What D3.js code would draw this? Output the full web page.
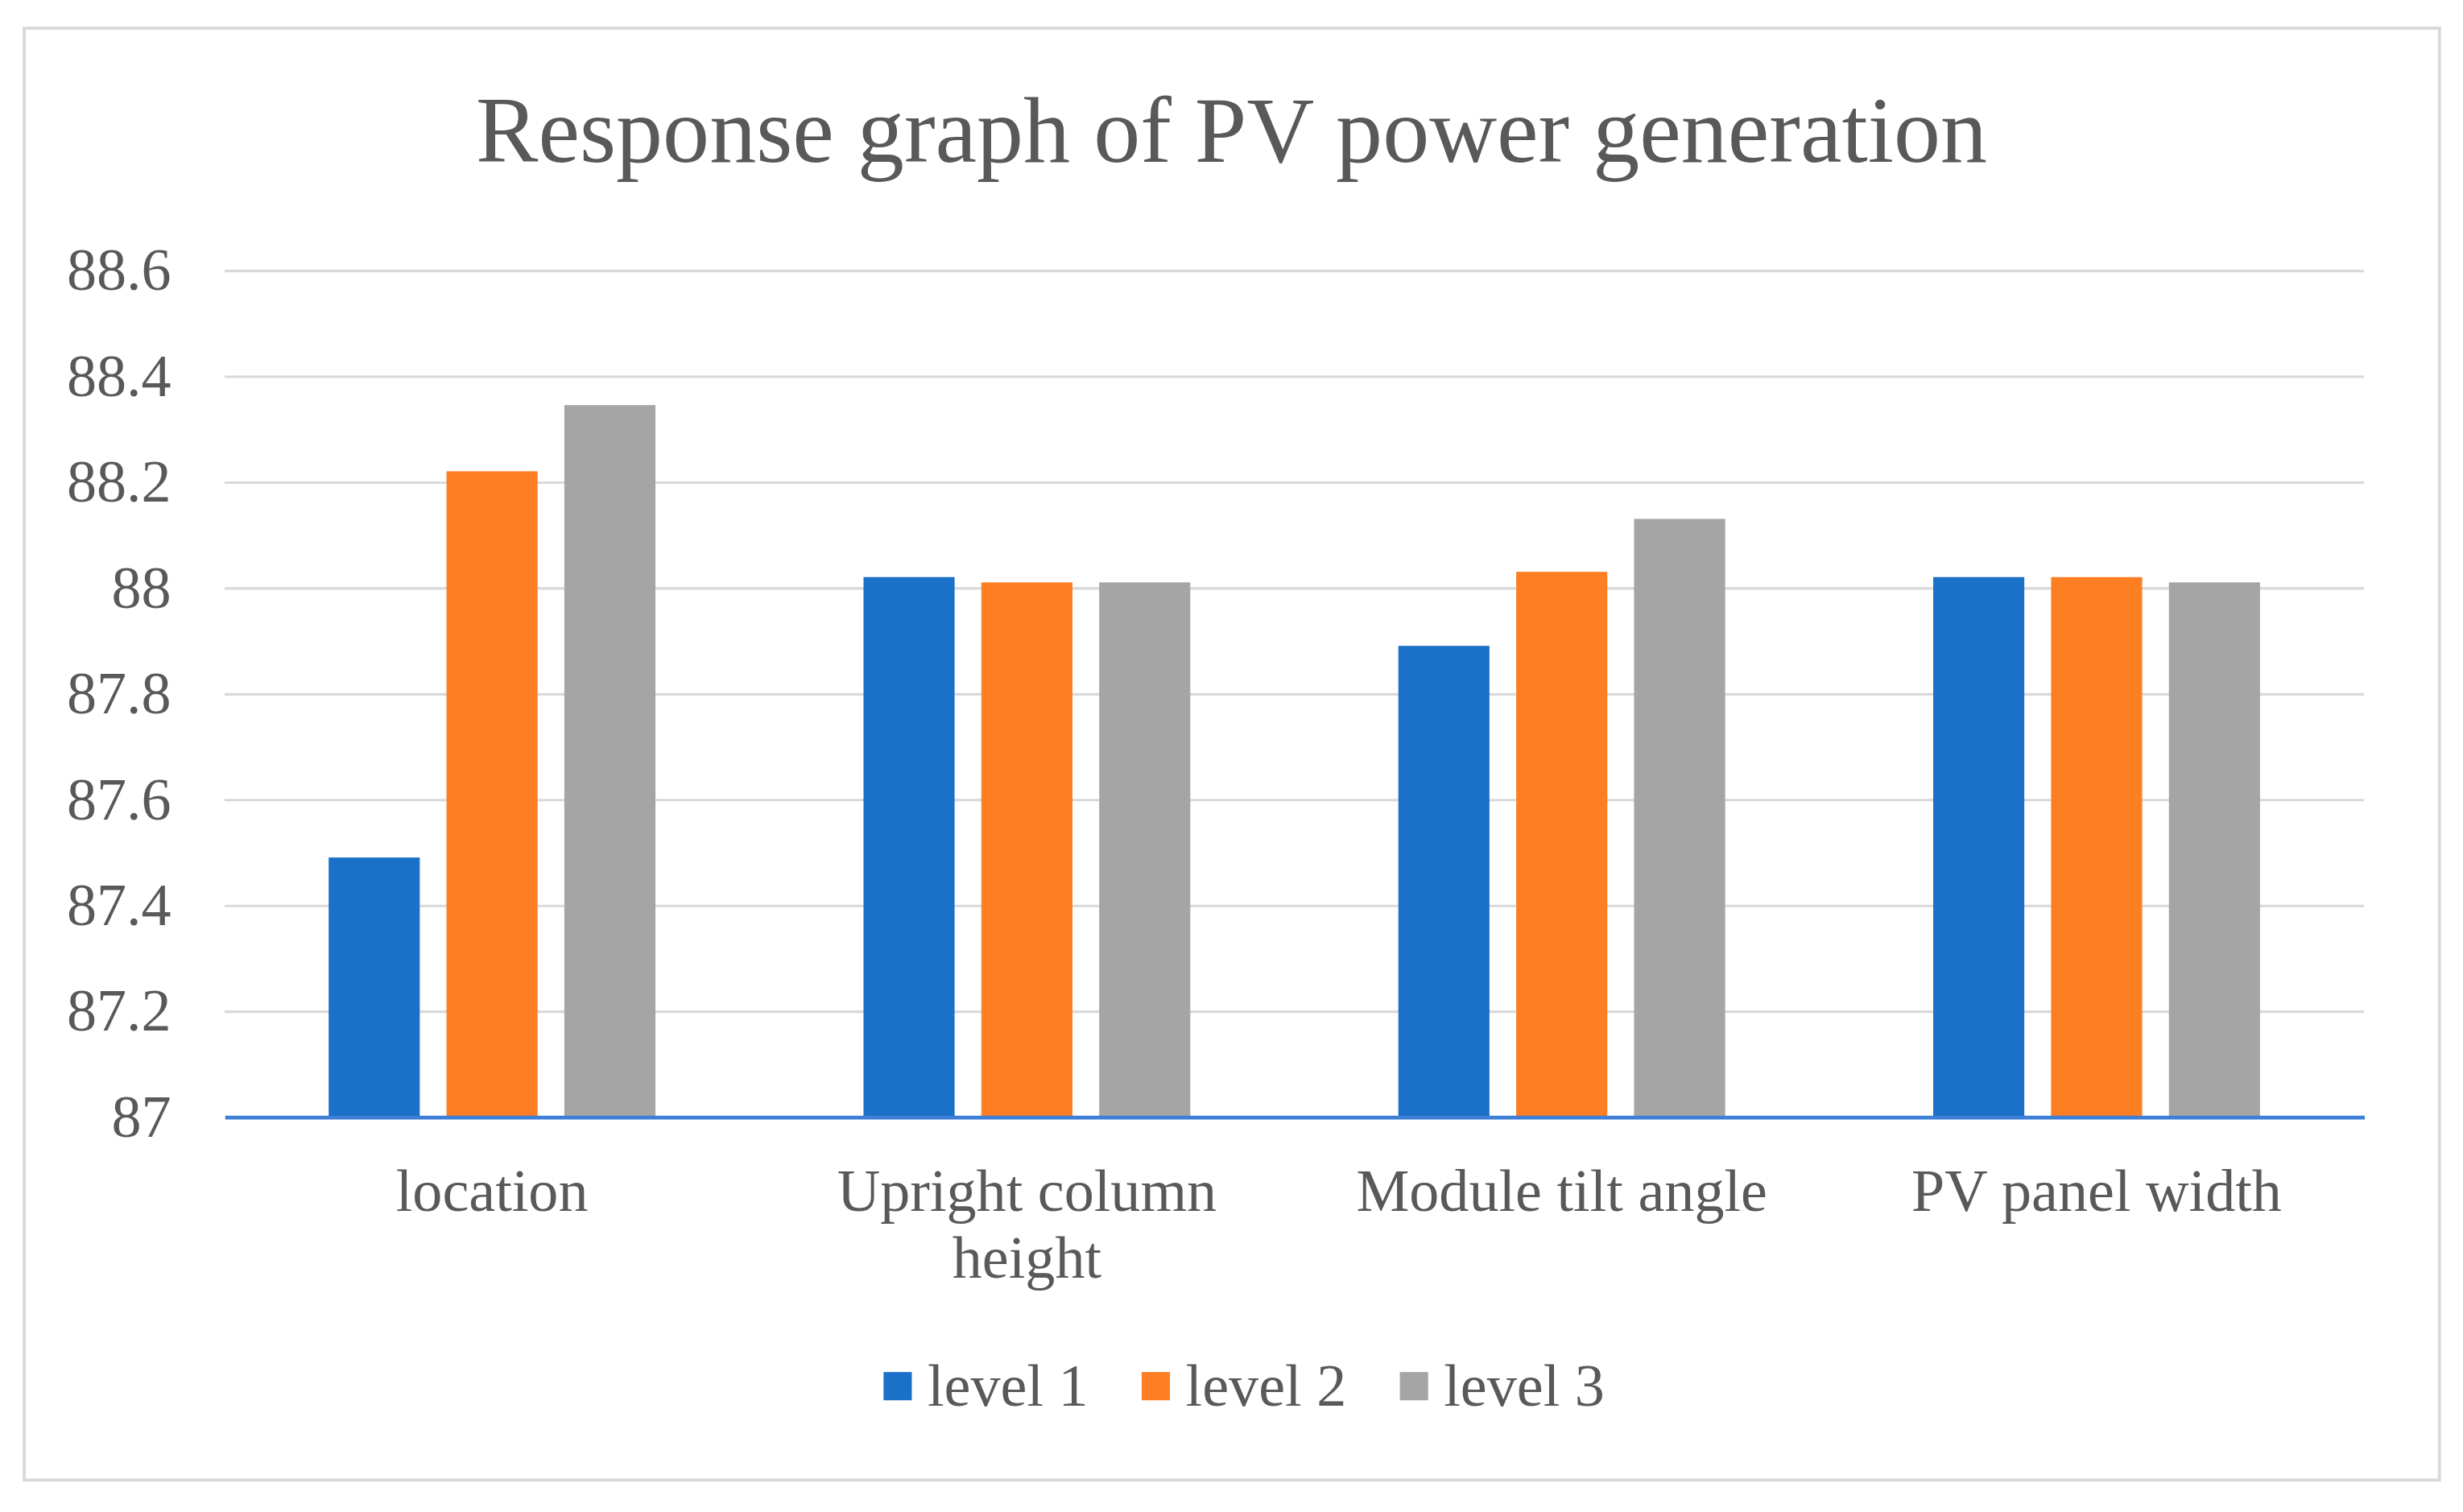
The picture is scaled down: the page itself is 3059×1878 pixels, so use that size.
<!DOCTYPE html>
<html>
<head>
<meta charset="utf-8">
<script src="https://cdn.jsdelivr.net/npm/d3@7"></script>
<style>
  html, body { margin: 0; padding: 0; background: #fff; }
  svg { display: block; }
  text { font-family: "Liberation Serif", "Times New Roman", serif; fill: #595959; }
</style>
</head>
<body>
<div id="chart"></div>
<script>
// values
const categories  = ["location", "Upright column height", "Module tilt angle", "PV panel width"];
const seriesNames = ["level 1", "level 2", "level 3"];
const level1 = [87.49, 88.02, 87.89, 88.02];
const level2 = [88.22, 88.01, 88.03, 88.02];
const level3 = [88.345, 88.01, 88.13, 88.01];
const yTicks = [87, 87.2, 87.4, 87.6, 87.8, 88, 88.2, 88.4, 88.6];

const COLORS = ["#1a71c7", "#fd7e23", "#a5a5a5"];

// drawing space is the reference at its native 1568 px width, scaled up to the window
const W = 1568, H = 962.6;
const plot = { left: 143, right: 1505, top: 172, bottom: 711 };

const series = [level1, level2, level3];

const svg = d3.select("#chart").append("svg")
  .attr("width", 3059)
  .attr("height", 1878)
  .attr("viewBox", `0 0 ${W} ${H}`);

svg.append("rect")
  .attr("x", 15.4).attr("y", 17.9)
  .attr("width", 1537.6).attr("height", 924.4)
  .attr("fill", "#fff")
  .attr("stroke", "#d9d9d9")
  .attr("stroke-width", 2);

// ── Title ───────────────────────────────────────────────────────────────
svg.append("text")
  .attr("x", 784).attr("y", 103)
  .attr("text-anchor", "middle")
  .style("font-size", "59.5px")
  .text("Response graph of PV power generation");

// ── Scales ──────────────────────────────────────────────────────────────
const y = d3.scaleLinear()
  .domain([yTicks[0], yTicks[yTicks.length - 1]])
  .range([plot.bottom, plot.top]);

const x0 = d3.scaleBand()
  .domain(categories)
  .range([plot.left, plot.right])
  .paddingInner(0.389)
  .paddingOuter(0.1945);

const x1 = d3.scaleBand()
  .domain(seriesNames)
  .range([0, x0.bandwidth()])
  .paddingInner(0.227)
  .paddingOuter(0);

// ── Grid + y labels ─────────────────────────────────────────────────────
svg.append("g")
  .attr("transform", `translate(${plot.left},0)`)
  .call(d3.axisLeft(y).tickValues(yTicks).tickSize(-(plot.right - plot.left)).tickFormat(""))
  .call(g => g.select(".domain").remove())
  .call(g => g.selectAll("line").attr("stroke", "#d9d9d9").attr("stroke-width", 1.6));

svg.append("g")
  .attr("transform", `translate(${plot.left},0)`)
  .call(d3.axisLeft(y).tickValues(yTicks).tickSize(0).tickPadding(34).tickFormat(d => String(d)))
  .call(g => g.select(".domain").remove())
  .call(g => g.selectAll("text")
    .attr("fill", "#595959")
    .style("font-size", "38px")
    .style("font-family", '"Liberation Serif", "Times New Roman", serif'));

// ── Bars ────────────────────────────────────────────────────────────────
const groups = svg.append("g").selectAll("g")
  .data(categories)
  .join("g")
  .attr("transform", d => `translate(${x0(d)},0)`);

groups.selectAll("rect")
  .data((d, i) => seriesNames.map((s, j) => ({ s, j, v: series[j][i] })))
  .join("rect")
  .attr("x", d => x1(d.s))
  .attr("y", d => y(d.v))
  .attr("width", x1.bandwidth())
  .attr("height", d => y(yTicks[0]) - y(d.v))
  .attr("fill", d => COLORS[d.j]);

// ── X axis ──────────────────────────────────────────────────────────────
const xAxis = svg.append("g")
  .attr("transform", `translate(0,${plot.bottom})`)
  .call(d3.axisBottom(x0).tickSize(0).tickPadding(0));

xAxis.select(".domain")
  .attr("stroke", "#3f80d6")
  .attr("stroke-width", 2.4);

xAxis.selectAll("text")
  .attr("fill", "#595959")
  .attr("dy", 0)
  .attr("y", 60)
  .style("font-size", "38px")
  .style("font-family", '"Liberation Serif", "Times New Roman", serif')
  .call(wrap, x0.step() * 0.88);

function wrap(texts, width) {
  texts.each(function () {
    const text = d3.select(this);
    const words = text.text().split(/\s+/);
    const yPos = text.attr("y");
    let line = [];
    let lineNo = 0;
    text.text(null);
    let tspan = text.append("tspan").attr("x", 0).attr("y", yPos);
    for (const w of words) {
      line.push(w);
      tspan.text(line.join(" "));
      if (tspan.node().getComputedTextLength() > width && line.length > 1) {
        line.pop();
        tspan.text(line.join(" "));
        line = [w];
        lineNo++;
        tspan = text.append("tspan").attr("x", 0).attr("y", +yPos + lineNo * 42.4).text(w);
      }
    }
  });
}

// ── Legend ──────────────────────────────────────────────────────────────
const legend = svg.append("g");
let cursor = 0;
seriesNames.forEach((name, i) => {
  const item = legend.append("g").attr("transform", `translate(${cursor},0)`);
  item.append("rect")
    .attr("x", 0).attr("y", -9)
    .attr("width", 18).attr("height", 18)
    .attr("fill", COLORS[i]);
  const t = item.append("text")
    .attr("x", 28).attr("y", 12.5)
    .style("font-size", "38px")
    .text(name);
  cursor += 28 + t.node().getComputedTextLength() + 34;
});
const legendWidth = cursor - 34;
legend.attr("transform", `translate(${792 - legendWidth / 2},882.5)`);
</script>
</body>
</html>
